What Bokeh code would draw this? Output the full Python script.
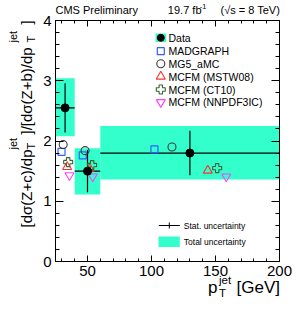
import math
from bokeh.plotting import figure
from bokeh.models import Range1d, FixedTicker, LinearAxis, Label
from bokeh.embed import file_html
from bokeh.resources import INLINE

# ---------------- data ----------------
bin_lo = [25, 40, 60]
bin_hi = [40, 60, 200]
data_x = [32.5, 50.0, 130.0]
data_y = [2.55, 1.50, 1.80]
stat_err = [0.41, 0.35, 0.37]
tot_lo = [2.08, 1.11, 1.36]
tot_hi = [3.04, 1.88, 2.25]

madgraph_x = [29.7, 46.3, 102.3]
madgraph_y = [1.82, 1.76, 1.86]
mg5_x = [31.0, 48.1, 116.0]
mg5_y = [1.94, 1.84, 1.90]
mstw_x = [34.1, 51.8, 144.0]
mstw_y = [1.57, 1.54, 1.51]
ct10_x = [34.9, 53.6, 151.3]
ct10_y = [1.65, 1.60, 1.55]
nnpdf_x = [35.9, 54.1, 158.4]
nnpdf_y = [1.43, 1.41, 1.41]

x_major = [50, 100, 150, 200]
x_minor = list(range(30, 201, 10))
y_major = [0, 1, 2, 3, 4]
y_minor = [round(0.2 * i, 1) for i in range(0, 21)]

legend_names = ["Data", "MADGRAPH", "MG5_aMC", "MCFM (MSTW08)", "MCFM (CT10)", "MCFM (NNPDF3IC)"]

# ---------------- style ----------------
FONT = "Liberation Sans"
TEAL = "#33ffcc"
C_MG = "#3060ff"
C_MG5 = "#3a3a3a"
C_MSTW = "#ff3030"
C_CT10 = "#336633"
C_NN = "#ff40ff"

X_LO, X_HI = 25, 200
Y_LO, Y_HI = 0, 4
# frame position on the page (px)
FX0, FX1, FY0, FY1 = 55, 279, 20, 261
W, H = 302, 306


def dx(px):
    return X_LO + (px - FX0) * (X_HI - X_LO) / (FX1 - FX0)


def dy(py):
    return Y_HI - (py - FY0) * (Y_HI - Y_LO) / (FY1 - FY0)


p = figure(
    frame_width=FX1 - FX0, frame_height=FY1 - FY0,
    min_border_left=FX0, min_border_right=W - FX1,
    min_border_top=FY0, min_border_bottom=H - FY1,
    x_range=Range1d(X_LO, X_HI), y_range=Range1d(Y_LO, Y_HI),
    output_backend="svg", toolbar_location=None,
    x_axis_location=None, y_axis_location=None,
)
p.grid.visible = False
p.outline_line_color = "black"
p.outline_line_width = 1
p.background_fill_color = "white"
p.border_fill_color = "white"


def make_axis(ticks, minor, labels, major_len, minor_len):
    ax = LinearAxis(ticker=FixedTicker(ticks=ticks, minor_ticks=minor))
    ax.major_tick_in = major_len
    ax.major_tick_out = 0
    ax.minor_tick_in = minor_len
    ax.minor_tick_out = 0
    ax.axis_line_color = "black"
    ax.major_tick_line_color = "black"
    ax.minor_tick_line_color = "black"
    ax.major_label_text_font = FONT
    ax.major_label_text_color = "black"
    ax.major_label_text_font_size = "15px"
    ax.major_label_standoff = 4
    if not labels:
        ax.major_label_overrides = {t: "" for t in ticks}
        ax.major_label_standoff = 0
    return ax


p.add_layout(make_axis(x_major, x_minor, True, 6, 3), "below")
p.add_layout(make_axis(x_major, x_minor, False, 6, 3), "above")
p.add_layout(make_axis(y_major, y_minor, True, 8, 4), "left")
p.add_layout(make_axis(y_major, y_minor, False, 8, 4), "right")

# total uncertainty boxes
p.quad(left=bin_lo, right=bin_hi, bottom=tot_lo, top=tot_hi,
       fill_color=TEAL, line_color=None)

# stat errors
p.segment(x0=bin_lo, x1=bin_hi, y0=data_y, y1=data_y, line_color="black", line_width=1.2)
p.segment(x0=data_x, x1=data_x,
          y0=[y - e for y, e in zip(data_y, stat_err)],
          y1=[y + e for y, e in zip(data_y, stat_err)],
          line_color="black", line_width=1.2)

# predictions
p.scatter(madgraph_x, madgraph_y, marker="square", size=7, fill_alpha=0, line_color=C_MG, line_width=1.2)
p.scatter(mg5_x, mg5_y, marker="circle", size=8, fill_alpha=0, line_color=C_MG5, line_width=1.1)
p.scatter(mstw_x, mstw_y, marker="triangle", size=9, fill_alpha=0, line_color=C_MSTW, line_width=1.1)
p.scatter(ct10_x, ct10_y, marker="plus", size=9, fill_alpha=0, line_color=C_CT10, line_width=1.1)
p.scatter(nnpdf_x, nnpdf_y, marker="inverted_triangle", size=9, fill_alpha=0, line_color=C_NN, line_width=1.1)

# data points
p.scatter(data_x, data_y, marker="circle", size=8, fill_color="black", line_color="black")

# ---------------- legend 1 ----------------
rows_py = [37.3, 50.7, 63.3, 76.0, 89.0, 101.7]
mk_px = 160.3
txt_px = 168
p.quad(left=[dx(155)], right=[dx(165.7)], bottom=[dy(rows_py[0] + 4.2)], top=[dy(rows_py[0] - 4.2)],
       fill_color=TEAL, line_color=None)
p.scatter([dx(mk_px)], [dy(rows_py[0])], marker="circle", size=7, fill_color="black", line_color="black")
p.scatter([dx(mk_px)], [dy(rows_py[1])], marker="square", size=7, fill_alpha=0, line_color=C_MG, line_width=1.2)
p.scatter([dx(mk_px)], [dy(rows_py[2])], marker="circle", size=8, fill_alpha=0, line_color=C_MG5, line_width=1.1)
p.scatter([dx(mk_px)], [dy(rows_py[3])], marker="triangle", size=9, fill_alpha=0, line_color=C_MSTW, line_width=1.1)
p.scatter([dx(mk_px)], [dy(rows_py[4])], marker="plus", size=9, fill_alpha=0, line_color=C_CT10, line_width=1.1)
p.scatter([dx(mk_px)], [dy(rows_py[5])], marker="inverted_triangle", size=9, fill_alpha=0, line_color=C_NN, line_width=1.1)


def lab(px, py, text, size, align="left", baseline="middle", angle=0.0, place=None):
    lbl = Label(x=px, y=py, x_units="canvas", y_units="canvas", text=text,
                text_font=FONT, text_font_size=size,
                text_align=align, text_baseline=baseline, angle=angle, text_color="black")
    if place is None:
        p.add_layout(lbl)
    else:
        p.add_layout(lbl, place)


for name, py in zip(legend_names, rows_py):
    lab(txt_px, py, name, "10.5px")

# ---------------- legend 2 ----------------
p.segment(x0=[dx(158.3)], x1=[dx(179.3)], y0=[dy(225)], y1=[dy(225)], line_color="black", line_width=1)
p.segment(x0=[dx(168.8)], x1=[dx(168.8)], y0=[dy(222)], y1=[dy(228)], line_color="black", line_width=1)
p.quad(left=[dx(158)], right=[dx(179.3)], bottom=[dy(246.5)], top=[dy(236)], fill_color=TEAL, line_color=None)
lab(183.3, 225, "Stat. uncertainty", "8.5px")
lab(183.3, 241, "Total uncertainty", "8.5px")

# texts outside the frame live in the bottom panel (absolute canvas positions),
# so that they are not clipped to the frame
OUT = "below"

# ---------------- header ----------------
lab(55, 9, "CMS Preliminary", "11px", place=OUT)
lab(279.5, 9, "(\u221As = 8 TeV)", "11px", align="right", place=OUT)
lab(206, 6, "-1", "7.5px", align="right", place=OUT)
lab(201, 9, "19.7 fb", "11px", align="right", place=OUT)

# ---------------- x axis title ----------------
lab(207.5, 287, "p", "17px", baseline="alphabetic", place=OUT)
lab(218.5, 279.5, "jet", "11.5px", baseline="alphabetic", place=OUT)
lab(218.5, 292, "T", "11.5px", baseline="alphabetic", place=OUT)
lab(279.5, 287, "[GeV]", "17px", align="right", baseline="alphabetic", place=OUT)

# ---------------- y axis title (rotated) ----------------
A = math.pi / 2
lab(25.5, 227, "[d\u03c3(Z+c)/dp", "15px", baseline="alphabetic", angle=A, place=OUT)
lab(12.5, 149, "jet", "11px", baseline="alphabetic", angle=A, place=OUT)
lab(30, 149, "T", "11px", baseline="alphabetic", angle=A, place=OUT)
lab(25.5, 134, "]/[d\u03c3(Z+b)/dp", "15px", baseline="alphabetic", angle=A, place=OUT)
lab(12.5, 42, "jet", "11px", baseline="alphabetic", angle=A, place=OUT)
lab(30, 42, "T", "11px", baseline="alphabetic", angle=A, place=OUT)
lab(25.5, 24, "]", "15px", baseline="alphabetic", angle=A, place=OUT)

open("out.html", "w").write(file_html(p, INLINE))
